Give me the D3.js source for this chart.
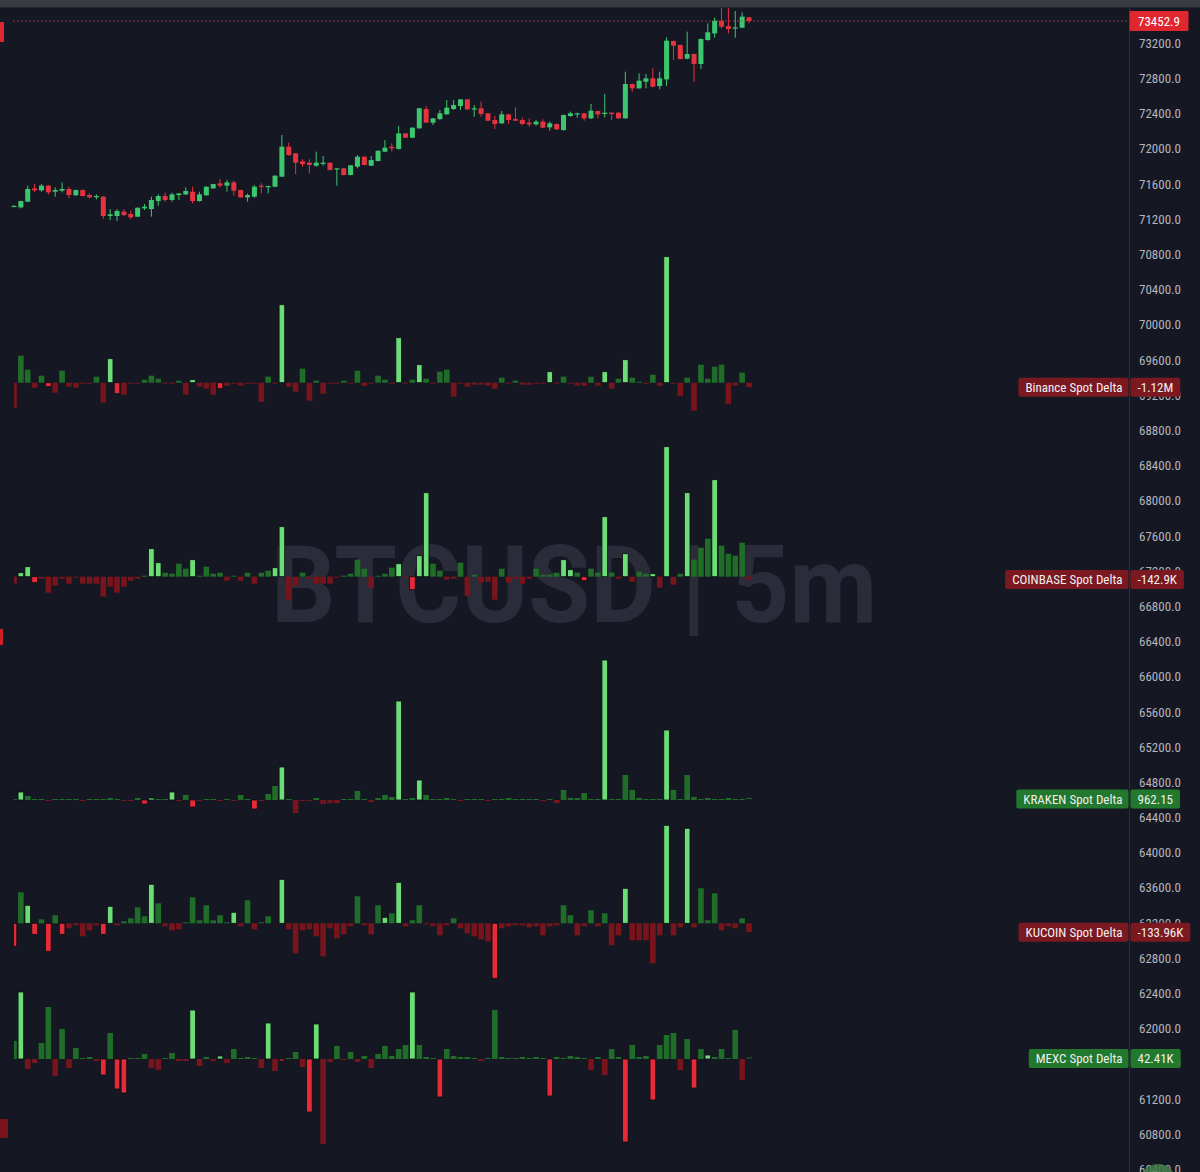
<!DOCTYPE html>
<html><head><meta charset="utf-8">
<script src="https://cdn.jsdelivr.net/npm/d3@7/dist/d3.min.js"></script>
<style>html,body{margin:0;padding:0;background:#151823;overflow:hidden}</style>
</head><body><svg id="c" width="1200" height="1172"></svg>
<script>
// ---------------- DATA ----------------
const symbolTitle = "BTCUSD | 5m";
const priceTicks = [73200,72800,72400,72000,71600,71200,70800,70400,70000,69600,69200,68800,68400,68000,67600,67200,66800,66400,66000,65600,65200,64800,64400,64000,63600,63200,62800,62400,62000,61600,61200,60800,60400];

const candleOpen = [71350,71335,71400,71551,71528,71582,71513,71525,71544,71472,71532,71475,71453,71457,71237,71237,71286,71260,71229,71324,71316,71407,71464,71419,71475,71483,71513,71407,71472,71551,71608,71582,71619,71532,71449,71457,71582,71566,71570,71684,72025,71949,71858,71843,71809,71828,71843,71767,71779,71703,71798,71911,71809,71862,71968,72025,71998,72176,72127,72233,72453,72298,72339,72392,72453,72487,72563,72449,72461,72404,72328,72290,72392,72339,72328,72298,72279,72309,72245,72283,72214,72373,72392,72404,72347,72430,72396,72411,72411,72347,72737,72688,72764,72802,72714,72790,73226,73181,73025,73078,72965,73237,73313,73457,73396,73370,73378,73495];
const candleHigh = [71360,71410,71582,71600,71600,71590,71563,71619,71570,71536,71540,71494,71483,71462,71316,71316,71316,71297,71335,71373,71457,71483,71502,71502,71494,71563,71570,71513,71574,71604,71657,71646,71638,71536,71494,71589,71608,71582,71699,72157,72070,71953,71881,71881,71968,71919,71847,71779,71783,71817,71930,71915,71919,71983,72101,72063,72260,72180,72245,72465,72487,72351,72442,72555,72555,72567,72567,72498,72536,72408,72377,72430,72396,72472,72358,72347,72328,72336,72309,72287,72389,72423,72411,72408,72510,72434,72624,72415,72415,72877,72741,72858,72851,72915,72877,73268,73230,73185,73332,73082,73253,73427,73491,73609,73609,73567,73552,73499];
const candleLow = [71345,71324,71398,71510,71513,71483,71457,71506,71438,71468,71460,71438,71426,71206,71191,71180,71237,71199,71225,71305,71229,71354,71400,71400,71419,71475,71381,71400,71468,71547,71563,71513,71468,71445,71400,71445,71494,71494,71566,71680,71919,71714,71798,71722,71798,71809,71756,71582,71699,71699,71779,71813,71805,71858,71964,71968,71995,72123,72123,72230,72294,72271,72328,72389,72442,72442,72445,72366,72366,72317,72226,72287,72283,72317,72271,72252,72264,72237,72207,72218,72207,72366,72355,72320,72339,72347,72358,72328,72343,72343,72650,72684,72688,72699,72677,72714,73010,73018,73018,72764,72908,73230,73264,73370,73313,73264,73370,73427];
const candleClose = [71352,71407,71544,71528,71582,71506,71532,71544,71475,71532,71464,71449,71464,71237,71256,71294,71248,71222,71331,71343,71419,71464,71419,71483,71494,71521,71407,71483,71570,71600,71582,71619,71525,71449,71475,71570,71570,71578,71695,72025,71930,71843,71828,71817,71843,71843,71760,71779,71703,71813,71911,71817,71873,71979,72014,72006,72176,72127,72241,72461,72298,72347,72404,72468,72498,72563,72449,72461,72396,72320,72283,72392,72328,72320,72283,72279,72309,72241,72290,72222,72385,72404,72404,72347,72434,72392,72411,72396,72347,72737,72688,72775,72802,72707,72802,73230,73173,73021,73078,72965,73249,73325,73457,73389,73362,73381,73503,73452.9];

// spot delta per 5m bar, in thousands (K)
const binanceDelta = [-6250,6750,3250,-1250,1750,-1000,-2500,3000,-1000,-1250,-250,-250,1500,-5000,6000,-2750,-3000,-250,-250,750,1750,1000,-250,-120,500,-3000,750,-1000,-1500,-3000,-1500,-750,-250,-750,-250,-250,-4750,1500,-250,19500,-1000,-2250,3500,-4500,500,-2750,-250,-250,500,-250,3000,-750,-250,1750,750,-250,11250,-250,750,4500,1000,-250,2750,3250,-3500,-250,-1000,-500,-500,-750,-1500,1250,-250,500,-500,-500,-250,-250,2750,-250,1500,-250,-750,-750,1500,-750,2750,-1500,1000,5750,1250,250,-250,2000,-750,31500,-250,-3250,1250,-7000,4500,1000,4000,4500,-5250,-750,2500,-1120];
const binanceSpikes = [5,14,15,26,30,39,56,59,78,86,89,95];

const coinbaseDelta = [-350,200,500,-300,-100,-800,-450,-100,-350,-50,-350,-350,-350,-1000,-500,-800,-500,-200,-100,50,1400,700,200,150,650,400,850,50,500,150,200,-200,50,-200,200,-350,200,300,450,2500,-1150,-450,200,-100,-350,-350,-350,-50,50,150,850,400,-550,50,150,450,650,-50,-650,1050,4200,650,300,-150,-100,700,-950,100,-300,-250,-1150,400,-300,-100,-350,-100,400,100,100,200,850,350,200,-200,400,200,3000,200,-100,1150,-250,250,150,150,-550,6500,-400,150,4200,850,1450,1900,4850,1550,1150,1050,1700,-142.9];
const coinbaseSpikes = [1,2,3,20,21,26,38,39,56,58,59,60,80,81,83,86,89,93,95,98,102];

const krakenDelta = [0,8,4,1,1,-0.5,0,1,1,1,-1,0,0,0,2,0,-1,-1,2,-4,2,0,0,8,-0.5,5,-7,-1,1,0,-0.5,1,-1,5,0,-9,-1,6,14,33,0,-13,-1,-1,2,-4,-3,-3,0,0,9,0,-2,2,5,3,99,1,2,20,5,1,1,2,1,-1,0,1,0,-1,1,0,2,0,1,0,0,-1,0,-3,10,2,2,7,1,1,140,0,1,25,10,2,1,1,0,70,10,1,25,3,1,2,1,1,2,1,1,0.96215];
const krakenSpikes = [1,19,20,23,26,35,39,56,59,86,95];

const kucoinDelta = [-345,465,270,-165,60,-420,120,-165,-75,-30,-195,-105,-30,-165,255,-30,30,75,240,105,585,300,-45,-105,-90,0,390,45,270,45,120,0,165,-45,345,-90,0,105,-15,660,-90,-450,-105,-90,-195,-495,-75,-225,-165,-45,405,-30,-165,270,90,150,615,-45,45,270,-15,-45,-180,-30,75,-75,-150,-195,-240,-270,-825,-75,-45,-30,-30,-60,-45,-180,-45,-30,270,120,-180,-45,195,-45,150,-330,-180,525,-255,-255,-255,-600,-180,1470,-180,-60,1425,-60,525,45,450,-105,-45,-75,75,-133.96];
const kucoinSpikes = [0,2,3,5,7,13,14,20,32,38,39,54,56,70,89,95,98];

const mexcDelta = [1440,5360,-800,-320,1280,4160,-1360,2400,-720,880,80,160,-160,-1280,2080,-2400,-2720,80,80,400,-720,-880,80,480,-160,-160,3920,-560,160,-160,240,-320,800,80,160,80,-720,2880,-960,-160,80,560,-640,-4240,2800,-6800,-240,1040,-80,560,-240,240,-720,400,1040,240,800,1120,5360,1120,160,80,-3040,800,240,160,160,80,-160,80,3920,160,80,80,160,80,160,80,-2960,160,80,240,160,80,-880,160,-1280,800,160,-6640,1120,160,240,-3280,1120,1920,2080,-880,1600,-2320,800,320,160,800,80,2320,-1680,42.41];
const mexcSpikes = [1,13,15,16,26,30,37,39,43,44,58,62,78,89,93,99,101];

const paneNames = ["Binance Spot Delta","COINBASE Spot Delta","KRAKEN Spot Delta","KUCOIN Spot Delta","MEXC Spot Delta"];

// ---------------- LAYOUT ----------------
const W = 1200, H = 1172;
const axisX = 1129.5;
const N = candleClose.length;
const svg = d3.select('#c');
const defs = svg.append('defs');
defs.append('clipPath').attr('id','plot').append('rect').attr('x',0).attr('y',8).attr('width',axisX).attr('height',H);
defs.append('clipPath').attr('id','bars').append('rect').attr('x',14).attr('y',8).attr('width',axisX-14).attr('height',H);

svg.append('rect').attr('width',W).attr('height',H).attr('fill','#151823');
svg.append('rect').attr('width',W).attr('height',7).attr('fill','#3a3b40');
svg.append('rect').attr('x',0).attr('y',7).attr('width',W).attr('height',1).attr('fill','#24262e');

const x = d3.scaleLinear().domain([0, N-1]).range([14, 749]);
const y = d3.scaleLinear().domain([60800, 73200]).range([1134.3, 43.3]);

// watermark
const wm = svg.append('text').attr('x',574).attr('y',622).attr('text-anchor','middle')
  .attr('font-family','Roboto, Inter, sans-serif').attr('font-weight',700).attr('font-size',108)
  .attr('fill','#2a2d39').text(symbolTitle);
wm.attr('textLength',606).attr('lengthAdjust','spacingAndGlyphs');

// candles
const cG = svg.append('g').attr('clip-path','url(#plot)');
const candles = d3.range(N).map(i => ({i, o:candleOpen[i], h:candleHigh[i], l:candleLow[i], c:candleClose[i]}));
const cUp = '#3cc76f', cDn = '#e5343f';
const cg = cG.selectAll('g.c').data(candles).join('g');
cg.append('line').attr('x1',d=>x(d.i)).attr('x2',d=>x(d.i)).attr('y1',d=>y(d.h)).attr('y2',d=>y(d.l))
  .attr('stroke',d=>d.c>=d.o?cUp:cDn).attr('stroke-width',1);
cg.append('rect').attr('x',d=>x(d.i)-2.5).attr('width',5)
  .attr('y',d=>y(Math.max(d.o,d.c))).attr('height',d=>Math.max(1.2, Math.abs(y(d.o)-y(d.c))))
  .attr('fill',d=>d.c>=d.o?cUp:cDn);

// last price dotted line
const lastPrice = candleClose[N-1];
svg.append('line').attr('x1',13).attr('x2',axisX).attr('y1',y(lastPrice)).attr('y2',y(lastPrice))
  .attr('stroke','#d9333d').attr('stroke-width',1).attr('stroke-dasharray','1.5,2.5');

// delta panes
const panes = [
  {name:paneNames[0], values:binanceDelta, spikes:binanceSpikes, base:382.7, perPx:250},
  {name:paneNames[1], values:coinbaseDelta, spikes:coinbaseSpikes, base:576.7, perPx:50},
  {name:paneNames[2], values:krakenDelta, spikes:krakenSpikes, base:800, perPx:1},
  {name:paneNames[3], values:kucoinDelta, spikes:kucoinSpikes, base:923.3, perPx:15},
  {name:paneNames[4], values:mexcDelta, spikes:mexcSpikes, base:1059, perPx:80},
];
const col = {gHi:'#6bdc76', gLo:'#1f6d29', rHi:'#e62a38', rLo:'#77141c'};
const bG = svg.append('g').attr('clip-path','url(#bars)');
panes.forEach(p => {
  p.scale = d3.scaleLinear().domain([0, p.perPx*100]).range([p.base, p.base-100]);
  const sp = new Set(p.spikes);
  const data = p.values.map((v,i)=>({i,v,hi:sp.has(i)}));
  bG.append('g').selectAll('rect').data(data).join('rect')
    .attr('x',d=>x(d.i)-2.8).attr('width',5.6)
    .attr('y',d=>Math.min(p.scale(0), p.scale(d.v)) - (Math.abs(p.scale(d.v)-p.scale(0))<1 && d.v>=0 ? 1 : 0))
    .attr('height',d=>Math.max(1, Math.abs(p.scale(d.v)-p.scale(0))))
    .attr('fill',d=> d.v>=0 ? (d.hi?col.gHi:col.gLo) : (d.hi?col.rHi:col.rLo))
    .attr('stroke',d=>d.hi?'#0c0e13':'none').attr('stroke-width',0.8);
});

// axis separator
svg.append('line').attr('x1',axisX).attr('x2',axisX).attr('y1',8).attr('y2',H).attr('stroke','#2c2f3a');

// price axis labels
const axFont = "'Liberation Sans Narrow','Roboto Condensed','DejaVu Sans Condensed',Roboto,sans-serif";
svg.append('g').selectAll('text').data(priceTicks).join('text')
  .attr('x',1139).attr('y',d=>y(d)).attr('dy','0.35em')
  .attr('font-family',axFont).attr('font-size',13).attr('fill','#b2b5be').text(d=>d.toFixed(1));

// price label
svg.append('rect').attr('x',axisX).attr('y',y(lastPrice)-10).attr('width',59).attr('height',20).attr('rx',1).attr('fill','#e0262f');
svg.append('text').attr('x',axisX+29.5).attr('y',y(lastPrice)).attr('dy','0.35em').attr('text-anchor','middle')
  .attr('font-family',axFont).attr('font-size',13).attr('fill','#ffffff').text(lastPrice.toFixed(1));

// pane labels
function fmt(k){
  const v = k*1000, a = Math.abs(v);
  if (a >= 1e6) return (+(v/1e6).toFixed(2)) + 'M';
  if (a >= 1e3) return (+(v/1e3).toFixed(2)) + 'K';
  return String(+v.toFixed(2));
}
panes.forEach(p => {
  const last = p.values[p.values.length-1];
  const ly = Math.max(p.scale(last), p.base-1) ;
  const fill = last >= 0 ? '#22782c' : '#7c1820';
  const g = svg.append('g');
  const t1 = g.append('text').attr('font-family',axFont).attr('font-size',13).attr('fill','#f0f0f0')
    .attr('text-anchor','end').attr('x',axisX-7).attr('y',ly).attr('dy','0.35em').text(p.name);
  const w1 = t1.node().getComputedTextLength();
  const t2 = g.append('text').attr('font-family',axFont).attr('font-size',13).attr('fill','#f0f0f0')
    .attr('x',axisX+8).attr('y',ly).attr('dy','0.35em').text(fmt(last));
  const w2 = t2.node().getComputedTextLength();
  g.insert('rect','text').attr('x',axisX-w1-14).attr('y',ly-9.5).attr('width',w1+13).attr('height',19).attr('rx',2).attr('fill',fill);
  g.insert('rect','text').attr('x',axisX+1).attr('y',ly-9.5).attr('width',w2+14).attr('height',19).attr('rx',2).attr('fill',fill);
});

// edge markers
svg.append('rect').attr('x',0).attr('y',22).attr('width',4).attr('height',20).attr('fill','#e0262f');
svg.append('rect').attr('x',0).attr('y',629).attr('width',3).attr('height',16).attr('fill','#c9202b');
svg.append('rect').attr('x',0).attr('y',1119).attr('width',8).attr('height',19).attr('fill','#78141c');
svg.append('circle').attr('cx',1158).attr('cy',1182).attr('r',18).attr('fill','#3d7a48').attr('opacity',0.85);
</script>
</body></html>
